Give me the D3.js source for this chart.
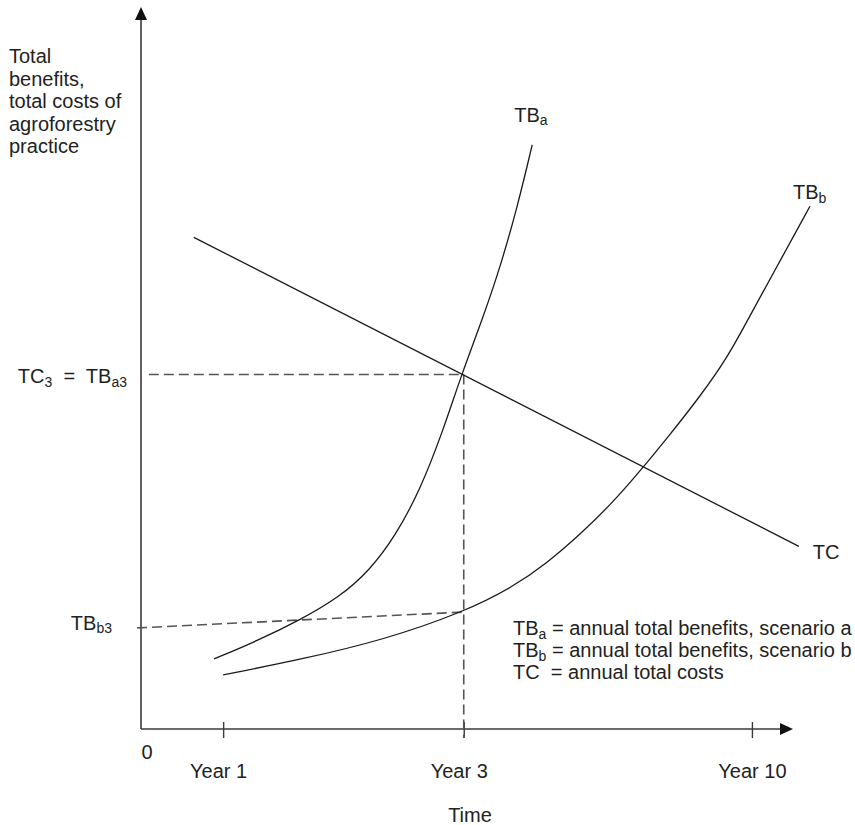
<!DOCTYPE html>
<html>
<head>
<meta charset="utf-8">
<script src="https://cdn.jsdelivr.net/npm/d3@7"></script>
<style>
  body { margin: 0; background: #fff; }
  svg { display: block; }
  text { font-family: "Liberation Sans", Arial, Helvetica, sans-serif; fill: #222; white-space: pre; }
</style>
</head>
<body>
<svg id="chart" width="855" height="825"></svg>
<script>
// ---- data (abstract units: time position 0-100, value 0-100) ----
const tbaX = [11.2, 17.8, 24.4, 30.5, 35.1, 39.0, 42.8, 46.2, 49.2, 52.5, 55.1, 57.7, 60.0];
const tbaY = [9.7, 12.2, 15.1, 18.3, 22.0, 26.7, 33.1, 41.0, 49.2, 57.1, 64.0, 72.2, 80.9];
const tbbX = [12.6, 24.4, 37.1, 49.5, 57.1, 62.3, 67.3, 72.4, 76.8, 80.7, 85.7, 89.9, 92.9, 96.9, 102.6];
const tbbY = [7.5, 9.6, 12.3, 16.2, 19.7, 23.0, 26.9, 31.4, 36.0, 40.3, 46.0, 51.4, 56.4, 63.0, 72.4];
const tcX = [8.1, 100.9];
const tcY = [68.1, 25.3];
const year3 = 49.5;
const tc3 = 49.1;              // TC3 = TBa3
const tbb3Start = [-0.6, 14.0]; // dashed guide to TBb3
const tbb3End = [49.5, 16.2];
const tickValues = [12.6, 49.5, 93.7];
const tickLabels = ["Year 1", "Year 3", "Year 10"];
const yTitle = ["Total", "benefits,", "total costs of", "agroforestry", "practice"];
const legendSym = ["TB", "TB", "TC"];
const legendSub = ["a", "b", ""];
const legendText = [" = annual total benefits, scenario a", " = annual total benefits, scenario b", "  = annual total costs"];

// ---- layout ----
const svg = d3.select("#chart");
const x = d3.scaleLinear().domain([0, 100]).range([141, 793]);
const y = d3.scaleLinear().domain([0, 100]).range([729, 7]);
const FS = 20, SUB = 14, SUBDY = 3.5;
const axisColor = "#3a3a3a";
const lineColor = "#1a1a1a";
const dashColor = "#555";

const line = d3.line().x(d => x(d[0])).y(d => y(d[1])).curve(d3.curveBasis);

// axes lines
svg.append("line").attr("x1", x(0)).attr("x2", x(100) - 12).attr("y1", y(0)).attr("y2", y(0))
  .attr("stroke", axisColor).attr("stroke-width", 1.6);
svg.append("line").attr("x1", x(0)).attr("x2", x(0)).attr("y1", y(0)).attr("y2", y(100) + 12)
  .attr("stroke", axisColor).attr("stroke-width", 1.6);
// arrowheads
svg.append("path").attr("d", `M${x(100)},${y(0)} L${x(100) - 13},${y(0) - 6} L${x(100) - 13},${y(0) + 6} Z`).attr("fill", "#111");
svg.append("path").attr("d", `M${x(0)},${y(100)} L${x(0) - 6},${y(100) + 13} L${x(0) + 6},${y(100) + 13} Z`).attr("fill", "#111");

// x axis ticks via d3 axis
const xAxis = d3.axisBottom(x).tickValues(tickValues).tickFormat((d, i) => tickLabels[i]).tickSizeOuter(0);
const gx = svg.append("g").attr("transform", `translate(0,${y(0)})`).call(xAxis);
gx.select(".domain").remove();
gx.selectAll(".tick line").attr("y1", -7).attr("y2", 9).attr("stroke", axisColor).attr("stroke-width", 1.4);
gx.selectAll(".tick text").attr("y", 49).attr("dy", null).attr("font-size", FS)
  .attr("font-family", '"Liberation Sans", Arial, sans-serif').attr("fill", "#222").attr("dx", (d, i) => i < 2 ? -5 : 0);

// origin label
svg.append("text").attr("x", x(0) + 6).attr("y", y(0) + 30).attr("text-anchor", "middle").attr("font-size", FS).text("0");
// axis title
svg.append("text").attr("x", (x(0) + x(100)) / 2 + 3).attr("y", 822).attr("text-anchor", "middle").attr("font-size", FS).text("Time");

// y title
svg.append("g").selectAll("text").data(yTitle).join("text")
  .attr("x", 9).attr("y", (d, i) => 63 + i * 22.5).attr("font-size", FS).text(d => d);

// dashed guides
const dash = "10,5";
svg.append("line").attr("x1", x(1.2)).attr("x2", x(year3)).attr("y1", y(tc3)).attr("y2", y(tc3))
  .attr("stroke", dashColor).attr("stroke-width", 1.6).attr("stroke-dasharray", dash);
svg.append("line").attr("x1", x(year3)).attr("x2", x(year3)).attr("y1", y(tc3)).attr("y2", y(0) + 9)
  .attr("stroke", dashColor).attr("stroke-width", 1.6).attr("stroke-dasharray", dash);
svg.append("line").attr("x1", x(tbb3Start[0])).attr("x2", x(tbb3End[0])).attr("y1", y(tbb3Start[1])).attr("y2", y(tbb3End[1]))
  .attr("stroke", dashColor).attr("stroke-width", 1.6).attr("stroke-dasharray", dash);

// curves
svg.append("path").datum(tbaX.map((v, i) => [v, tbaY[i]])).attr("d", line)
  .attr("fill", "none").attr("stroke", lineColor).attr("stroke-width", 1.3);
svg.append("path").datum(tbbX.map((v, i) => [v, tbbY[i]])).attr("d", line)
  .attr("fill", "none").attr("stroke", lineColor).attr("stroke-width", 1.3);
svg.append("path").datum(tcX.map((v, i) => [v, tcY[i]])).attr("d", d3.line().x(d => x(d[0])).y(d => y(d[1])))
  .attr("fill", "none").attr("stroke", lineColor).attr("stroke-width", 1.3);

// helper for text with subscripts: parts = [[text, isSub], ...]
function richText(g, px, py, parts, anchor) {
  const t = g.append("text").attr("x", px).attr("y", py).attr("font-size", FS).attr("text-anchor", anchor || "start");
  let lowered = false;
  parts.forEach(([s, sub]) => {
    const ts = t.append("tspan").text(s);
    if (sub && !lowered) { ts.attr("dy", SUBDY).attr("font-size", SUB); lowered = true; }
    else if (sub) { ts.attr("font-size", SUB); }
    else if (!sub && lowered) { ts.attr("dy", -SUBDY); lowered = false; }
  });
  return t;
}

// curve labels
const tbaEnd = [tbaX[tbaX.length - 1], tbaY[tbaY.length - 1]];
const tbbEnd = [tbbX[tbbX.length - 1], tbbY[tbbY.length - 1]];
richText(svg, x(tbaEnd[0]) - 18, y(tbaEnd[1]) - 23, [["TB", false], ["a", true]]);
richText(svg, x(tbbEnd[0]) - 17, y(tbbEnd[1]) - 7, [["TB", false], ["b", true]]);
richText(svg, x(tcX[1]) + 14, y(tcY[1]) + 13, [["TC", false]]);

// y-side value labels
richText(svg, 127, y(tc3) + 9, [["TC", false], ["3", true], ["  =  TB", false], ["a3", true]], "end");
richText(svg, 112, y(tbb3Start[1]) + 2, [["TB", false], ["b3", true]], "end");

// legend
legendSym.forEach((s, i) => {
  const parts = [[s, false]];
  if (legendSub[i]) parts.push([legendSub[i], true]);
  parts.push([legendText[i], false]);
  richText(svg, 513, 635 + i * 22, parts);
});
</script>
</body>
</html>
